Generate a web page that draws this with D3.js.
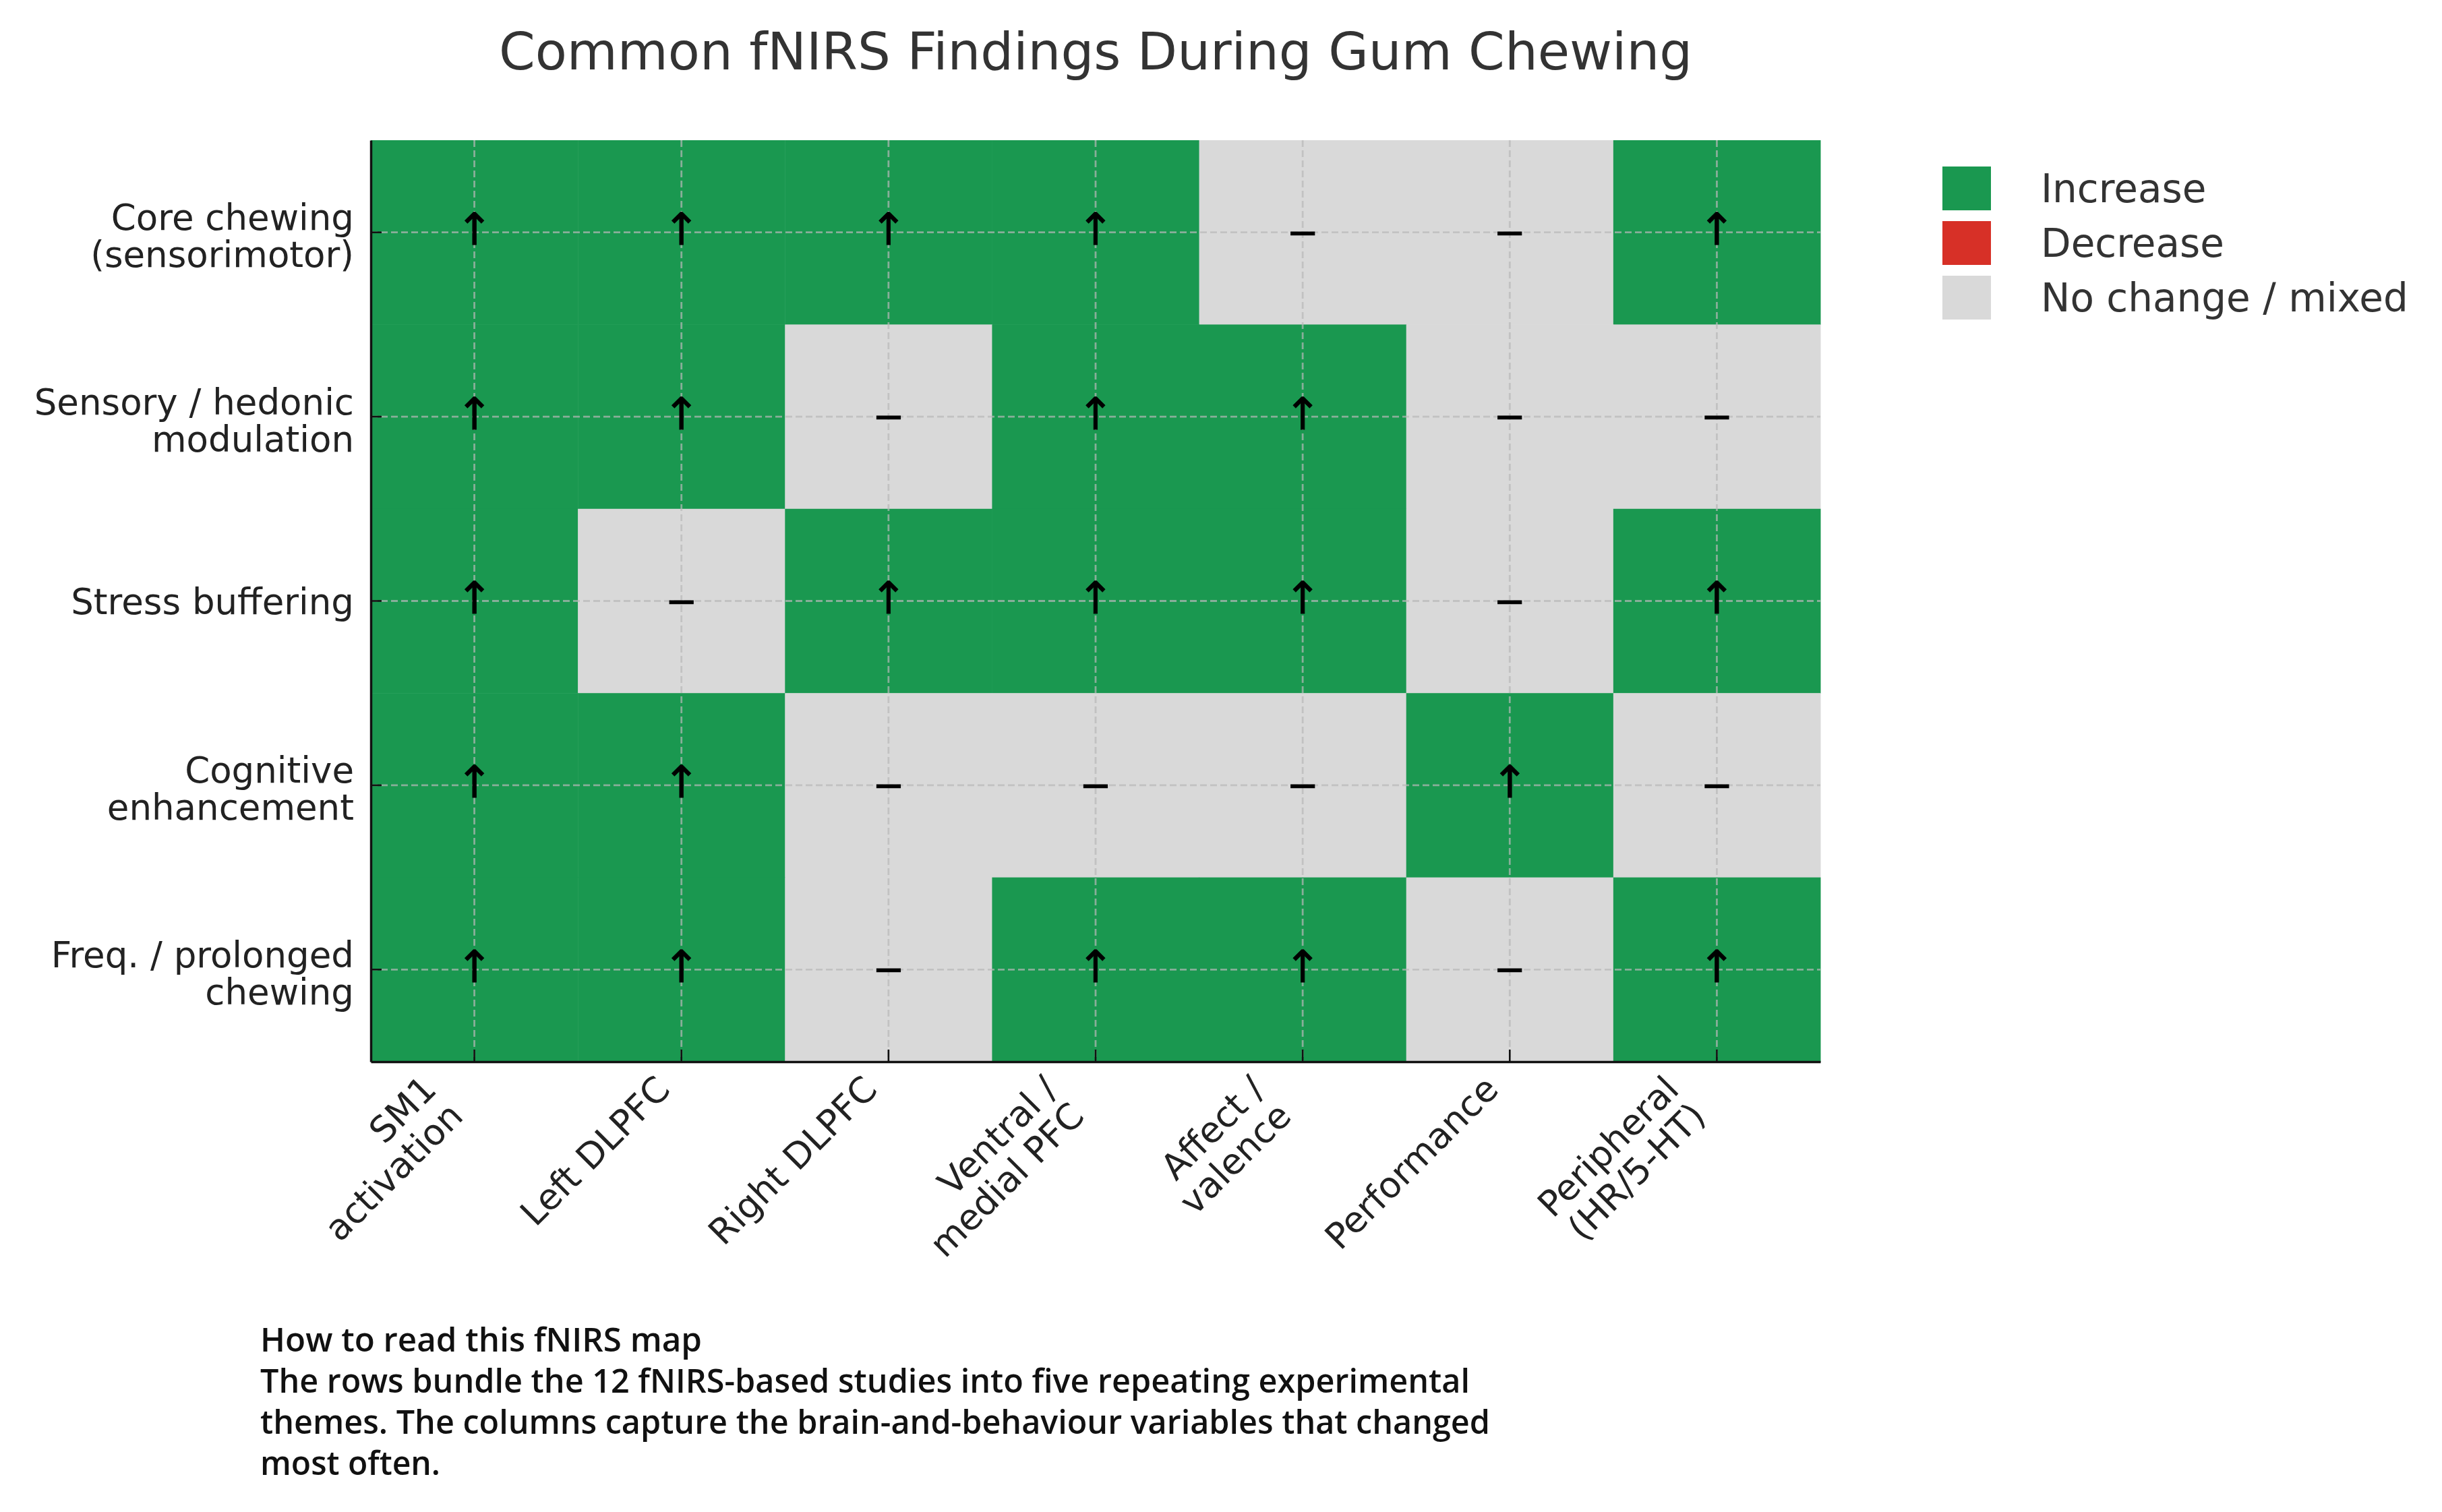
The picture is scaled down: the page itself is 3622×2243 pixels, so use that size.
<!DOCTYPE html>
<html>
<head>
<meta charset="utf-8">
<script src="https://cdn.jsdelivr.net/npm/d3@7"></script>
<style>
  html, body { margin: 0; padding: 0; background: #fff; }
</style>
</head>
<body>
<div id="chart"></div>
<script>
// rows = experimental themes, columns = measured variables
var themes = [
  "Core chewing\n(sensorimotor)",
  "Sensory / hedonic\nmodulation",
  "Stress buffering",
  "Cognitive\nenhancement",
  "Freq. / prolonged\nchewing"
];
var variables = [
  "SM1\nactivation",
  "Left DLPFC",
  "Right DLPFC",
  "Ventral /\nmedial PFC",
  "Affect /\nvalence",
  "Performance",
  "Peripheral\n(HR/5-HT)"
];
// 1 = increase, -1 = decrease, 0 = no change / mixed
var findings = [
  [1, 1, 1, 1, 0, 0, 1],
  [1, 1, 0, 1, 1, 0, 0],
  [1, 0, 1, 1, 1, 0, 1],
  [1, 1, 0, 0, 0, 1, 0],
  [1, 1, 0, 1, 1, 0, 1]
];
var legendLabels = ["Increase", "Decrease", "No change / mixed"];
var legendCodes = [1, -1, 0];
var noteLines = [
  "How to read this fNIRS map",
  "The rows bundle the 12 fNIRS-based studies into five repeating experimental",
  "themes. The columns capture the brain-and-behaviour variables that changed",
  "most often."
];

var svgWidth = 3622;
var svgHeight = 2243;

var plot = { left: 550, right: 2700, top: 208, bottom: 1575 };
var font = "'DejaVu Sans', sans-serif";

var colorOf = d3.scaleOrdinal()
  .domain([1, -1, 0])
  .range(["#1a9850", "#d73027", "#d9d9d9"]);
var symbolOf = d3.scaleOrdinal()
  .domain([1, -1, 0])
  .range(["\u2191", "\u2193", "\u2212"]);

var svg = d3.select("#chart")
  .append("svg")
  .attr("width", svgWidth)
  .attr("height", svgHeight)
  .style("font-family", font);

var x = d3.scaleBand()
  .domain(variables)
  .range([plot.left, plot.right])
  .padding(0);

var y = d3.scaleBand()
  .domain(themes)
  .range([plot.top, plot.bottom])
  .padding(0);

// cells
var cells = [];
findings.forEach(function(row, i) {
  row.forEach(function(v, j) {
    cells.push({ theme: themes[i], variable: variables[j], value: v });
  });
});

svg.append("g")
  .selectAll("rect")
  .data(cells)
  .enter()
  .append("rect")
  .attr("x", d => x(d.variable))
  .attr("y", d => y(d.theme))
  .attr("width", x.bandwidth() + 0.5)
  .attr("height", y.bandwidth() + 0.5)
  .attr("fill", d => colorOf(d.value));

// dashed grid at tick positions
var grid = svg.append("g")
  .attr("stroke", "#b8b8b8")
  .attr("stroke-opacity", 0.7)
  .attr("stroke-width", 2.8)
  .attr("stroke-dasharray", "10 5");

grid.selectAll("line.v")
  .data(variables)
  .enter()
  .append("line")
  .attr("class", "v")
  .attr("x1", d => x(d) + x.bandwidth() / 2)
  .attr("x2", d => x(d) + x.bandwidth() / 2)
  .attr("y1", plot.top)
  .attr("y2", plot.bottom);

grid.selectAll("line.h")
  .data(themes)
  .enter()
  .append("line")
  .attr("class", "h")
  .attr("y1", d => y(d) + y.bandwidth() / 2)
  .attr("y2", d => y(d) + y.bandwidth() / 2)
  .attr("x1", plot.left)
  .attr("x2", plot.right);

// symbols in cells
svg.append("g")
  .selectAll("text")
  .data(cells)
  .enter()
  .append("text")
  .attr("x", d => x(d.variable) + x.bandwidth() / 2)
  .attr("y", d => y(d.theme) + y.bandwidth() / 2)
  .attr("dy", d => d.value === 0 ? "0.34em" : "0.28em")
  .attr("text-anchor", "middle")
  .attr("font-size", d => d.value === 0 ? 56 : 66)
  .attr("fill", "#000")
  .attr("stroke", "#000")
  .attr("stroke-width", d => d.value === 0 ? 1.2 : 0.8)
  .text(d => symbolOf(d.value));

// axes, ticks pointing inwards
var xAxis = svg.append("g")
  .attr("transform", `translate(0, ${plot.bottom})`)
  .call(d3.axisBottom(x).tickSizeInner(-18).tickSizeOuter(0).tickFormat(""));

var yAxis = svg.append("g")
  .attr("transform", `translate(${plot.left}, 0)`)
  .call(d3.axisLeft(y).tickSizeInner(-16).tickSizeOuter(0).tickFormat(""));

[xAxis, yAxis].forEach(function(a) {
  a.select(".domain").attr("stroke", "#111").attr("stroke-width", 3.5);
  a.selectAll(".tick line").attr("stroke", "#111").attr("stroke-width", 2.6);
});

// y labels (multi-line, right aligned, centred on row)
var lineH = 55;
svg.append("g")
  .selectAll("text")
  .data(themes)
  .enter()
  .append("text")
  .attr("text-anchor", "end")
  .attr("font-size", 53)
  .attr("fill", "#222")
  .each(function(d) {
    var lines = d.split("\n");
    var cy = y(d) + y.bandwidth() / 2;
    var first = cy + 19 - (lines.length - 1) * lineH / 2 + (lines.length > 1 ? 5 : 0);
    var t = d3.select(this);
    lines.forEach(function(s, k) {
      t.append("tspan")
        .attr("x", 525)
        .attr("y", first + k * lineH)
        .text(s);
    });
  });

// x labels rotated 45 degrees
var xlh = 56;
var c45 = Math.SQRT1_2;
svg.append("g")
  .selectAll("g")
  .data(variables)
  .enter()
  .append("g")
  .attr("transform", function(d) {
    var n = d.split("\n").length;
    var tx = x(d) + x.bandwidth() / 2 - 14 - (n - 1) * xlh * c45;
    var ty = plot.bottom + 44;
    return `translate(${tx}, ${ty}) rotate(-45)`;
  })
  .append("text")
  .attr("text-anchor", "end")
  .attr("font-size", 53)
  .attr("fill", "#222")
  .each(function(d) {
    var t = d3.select(this);
    d.split("\n").forEach(function(s, k) {
      t.append("tspan").attr("x", 0).attr("y", k * xlh).text(s);
    });
  });

// title
svg.append("text")
  .attr("x", (plot.left + plot.right) / 2)
  .attr("y", 103)
  .attr("text-anchor", "middle")
  .attr("font-size", 77)
  .attr("fill", "#333")
  .text("Common fNIRS Findings During Gum Chewing");

// legend
var legend = svg.append("g")
  .selectAll("g")
  .data(legendCodes)
  .enter()
  .append("g")
  .attr("transform", (d, i) => `translate(2881, ${247 + i * 81})`);

legend.append("rect")
  .attr("width", 72)
  .attr("height", 65)
  .attr("fill", d => colorOf(d));

legend.append("text")
  .attr("x", 146)
  .attr("y", 32.5)
  .attr("dy", "0.36em")
  .attr("font-size", 58)
  .attr("fill", "#333")
  .text((d, i) => legendLabels[i]);

// explanatory note under the chart
var noteWidths = [655, 1794, 1824, 267];
svg.append("g")
  .selectAll("text")
  .data(noteLines)
  .enter()
  .append("text")
  .attr("x", 386)
  .attr("y", (d, i) => 2005 + i * 61)
  .style("font-family", "'Open Sans', sans-serif")
  .attr("font-weight", 600)
  .attr("font-size", 48)
  .attr("fill", "#111")
  .attr("textLength", (d, i) => noteWidths[i])
  .attr("lengthAdjust", "spacingAndGlyphs")
  .text(d => d);
</script>
</body>
</html>
